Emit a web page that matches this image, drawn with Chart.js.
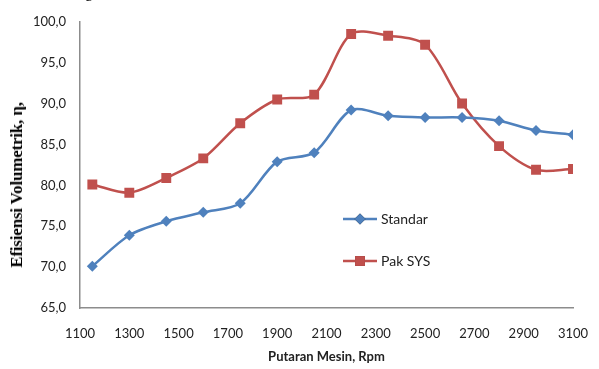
<!DOCTYPE html>
<html>
<head>
<meta charset="utf-8">
<script src="https://cdn.jsdelivr.net/npm/chart.js@4.4.1/dist/chart.umd.min.js"></script>
<style>
    html, body { margin: 0; padding: 0; background: #fff; }
    #wrap { position: relative; width: 599px; height: 369px; overflow: hidden; }
    #clipped { position: absolute; left: 62px; top: -17px; font: 16px "Liberation Serif", serif; color: #000; white-space: nowrap; }
    #ytitle {
        position: absolute; left: 17px; top: 185px;
        transform: translate(-50%, -50%) rotate(-90deg);
        font: bold 17px "Liberation Serif", serif; color: #000; white-space: nowrap; letter-spacing: -0.2px;
    }
</style>
</head>
<body>
<div id="wrap">
    <div id="clipped">dengan rata-rata 5,3 % ...</div>
    <canvas id="chart" width="599" height="369"></canvas>
    <div id="ytitle">Efisiensi Volumetrik, η,</div>
</div>
<script>
// values
const rpm = [1150, 1300, 1450, 1600, 1750, 1900, 2050, 2200, 2350, 2500, 2650, 2800, 2950, 3100];
const standar = [70.1, 73.9, 75.6, 76.7, 77.8, 82.9, 84.0, 89.2, 88.5, 88.3, 88.3, 87.9, 86.7, 86.2];
const pakSys = [80.1, 79.1, 80.9, 83.3, 87.6, 90.5, 91.1, 98.5, 98.3, 97.2, 90.0, 84.8, 81.9, 82.0];
const seriesNames = ['Standar', 'Pak SYS'];
const xTicks = [1100, 1300, 1500, 1700, 1900, 2100, 2300, 2500, 2700, 2900, 3100];
const yTicks = [65, 70, 75, 80, 85, 90, 95, 100];

const blue = '#4F81BD';
const red = '#C0504D';
const axisGrey = '#8c8c8c';
const tickFont = {family: 'Lato, "Open Sans", sans-serif', size: 13};

const toPoints = (ys) => ys.map((y, i) => ({x: rpm[i], y: y}));

// legend drawn inside the plot area, like the Excel original
const insideLegend = {
    id: 'insideLegend',
    afterDraw(chart, args, opts) {
        const ctx = chart.ctx;
        ctx.save();
        chart.data.datasets.forEach((ds, i) => {
            const y = opts.y + i * opts.gap;
            ctx.strokeStyle = ds.borderColor;
            ctx.lineWidth = 2.5;
            ctx.beginPath();
            ctx.moveTo(opts.x, y);
            ctx.lineTo(opts.x + opts.lineLen, y);
            ctx.stroke();
            Chart.helpers.drawPoint(ctx, {pointStyle: ds.pointStyle, radius: ds.pointRadius, rotation: 0, borderWidth: 0},
                opts.x + opts.lineLen / 2, y);
            ctx.fillStyle = ds.backgroundColor;
            ctx.fill();
            ctx.fillStyle = '#222';
            ctx.font = '14px ' + tickFont.family;
            ctx.textBaseline = 'middle';
            ctx.fillText(ds.label, opts.x + opts.lineLen + 4, y);
        });
        ctx.restore();
    }
};

new Chart(document.getElementById('chart'), {
    type: 'line',
    data: {
        datasets: [
            {label: seriesNames[0], data: toPoints(standar), borderColor: blue, backgroundColor: blue,
             pointStyle: 'rectRot', pointRadius: 5.5, pointBorderWidth: 0, borderWidth: 2.5, tension: 0.3},
            {label: seriesNames[1], data: toPoints(pakSys), borderColor: red, backgroundColor: red,
             pointStyle: 'rect', pointRadius: 7, pointBorderWidth: 0, borderWidth: 2.5, tension: 0.3}
        ]
    },
    options: {
        responsive: false,
        animation: false,
        layout: {padding: {top: 15, right: 26, left: 0, bottom: 0}},
        plugins: {
            legend: {display: false},
            tooltip: {enabled: false},
            insideLegend: {x: 343, y: 219, gap: 42, lineLen: 34}
        },
        scales: {
            x: {
                type: 'linear',
                min: 1100, max: 3100,
                afterBuildTicks: (s) => { s.ticks = xTicks.map(v => ({value: v})); },
                afterFit: (s) => { s.height = 61; s.paddingLeft = 0; s.paddingRight = 0; },
                grid: {display: false, drawTicks: false},
                border: {color: axisGrey, width: 1.5},
                ticks: {font: tickFont, color: '#222', padding: 18, maxRotation: 0, autoSkip: false,
                        callback: (v) => String(v)},
                title: {display: true, text: 'Putaran Mesin, Rpm', color: '#222',
                        font: {family: tickFont.family, size: 13, weight: 'bold'}, padding: {top: 2}}
            },
            y: {
                min: 65, max: 100,
                afterBuildTicks: (s) => { s.ticks = yTicks.map(v => ({value: v})); },
                afterFit: (s) => { s.width = 80; },
                grid: {display: false, drawTicks: false},
                border: {color: axisGrey, width: 1.5},
                ticks: {font: tickFont, color: '#222', padding: 14,
                        callback: (v) => v.toFixed(1).replace('.', ',')}
            }
        }
    },
    plugins: [insideLegend]
});
</script>
</body>
</html>
